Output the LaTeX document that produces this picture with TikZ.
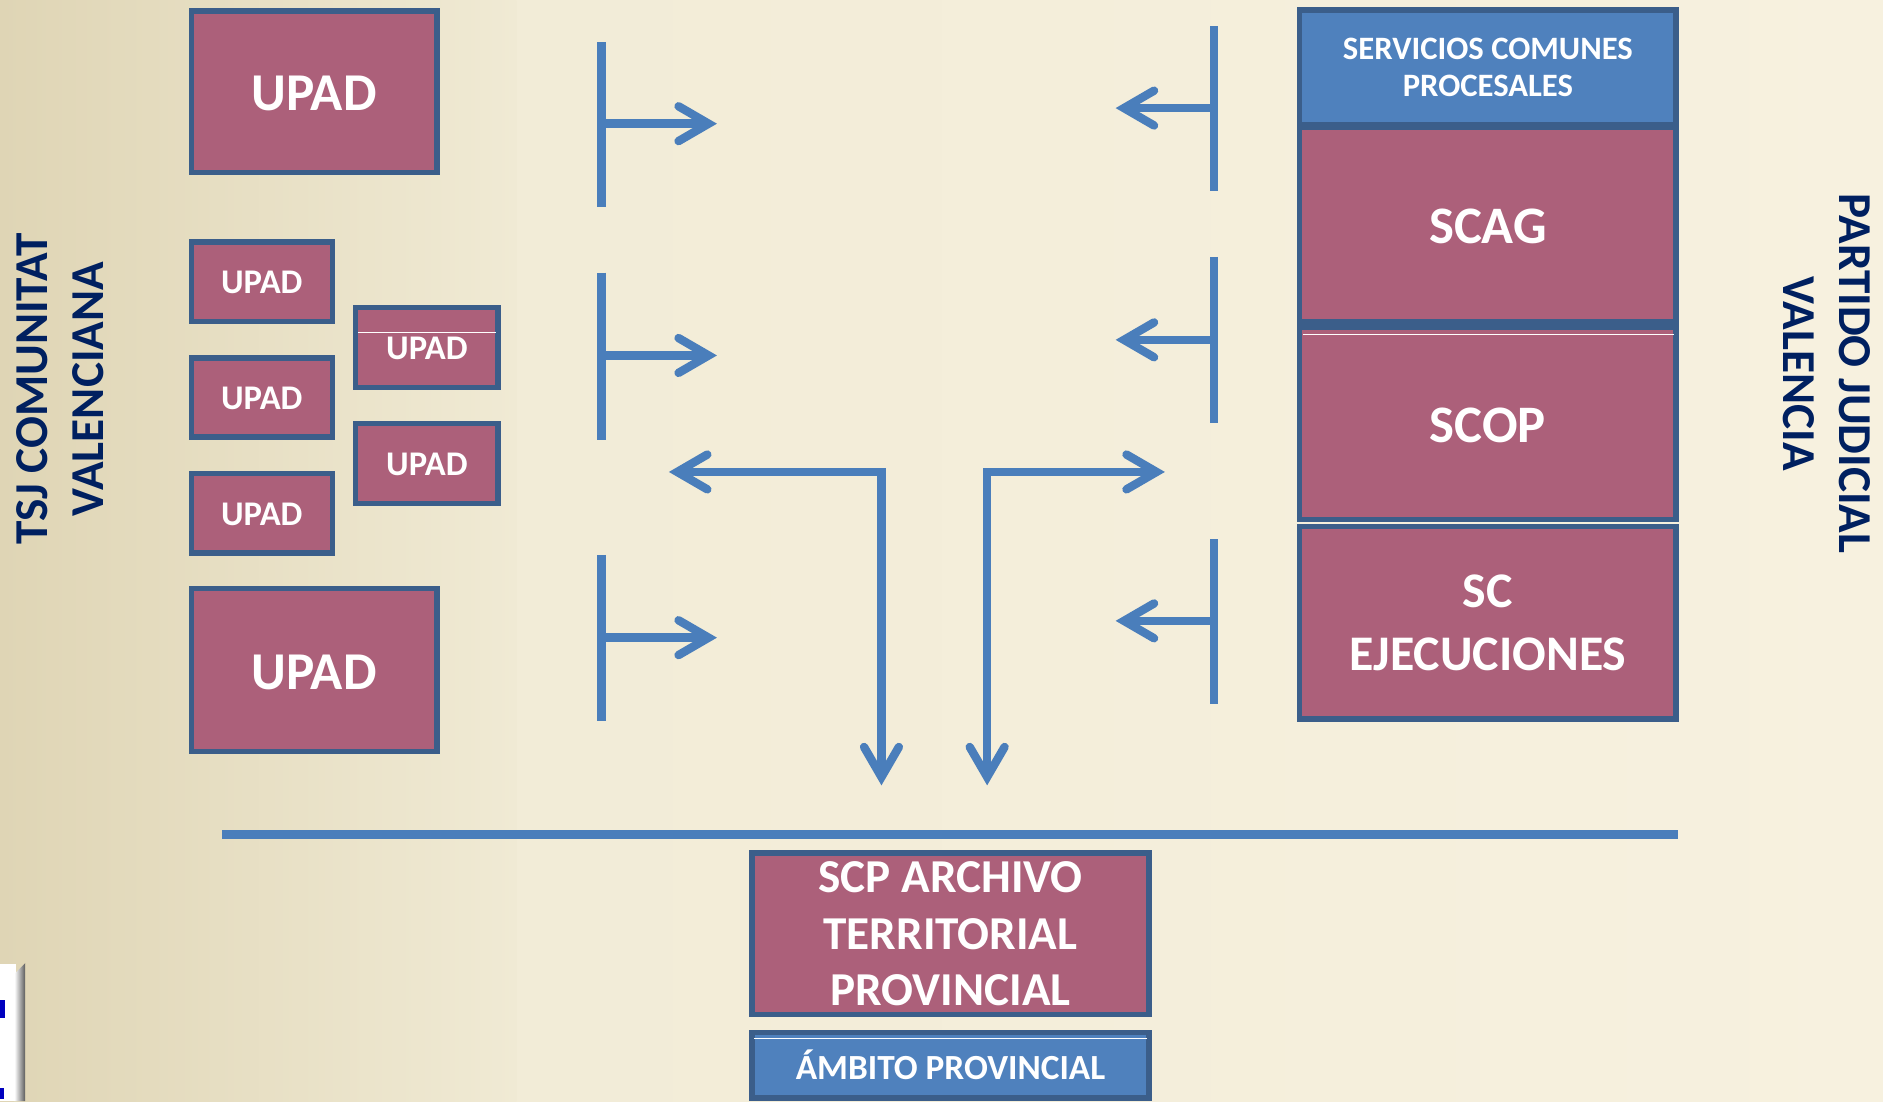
\documentclass[tikz,border=0pt]{standalone}
\usepackage{fontspec}
\setmainfont{Carlito}
\usetikzlibrary{arrows.meta}

\definecolor{mauve}{RGB}{172,96,122}
\definecolor{edge}{RGB}{59,94,138}
\definecolor{bluefill}{RGB}{79,129,189}
\definecolor{arrowblue}{RGB}{74,126,187}
\definecolor{navy}{RGB}{0,32,96}
\definecolor{bgL}{RGB}{223,213,181}
\definecolor{bgM}{RGB}{240,234,212}
\definecolor{bgR}{RGB}{247,241,223}

\tikzset{
  chev/.tip={Straight Barb[length=25pt,width=29pt,line cap=round]},
  box/.style={rectangle, draw=edge, line width=4.5pt, fill=mauve, text=white,
    inner sep=0pt, align=center, execute at begin node={\rule{0pt}{0.72em}}},
  bluebox/.style={box, fill=bluefill},
  flow/.style={draw=arrowblue, line width=7pt},
  sidelabel/.style={text=navy, align=center, inner sep=0pt,
    font=\bfseries\fontsize{39.3}{47}\selectfont},
  seam/.style={draw=white, line width=1pt},
}

\begin{document}
\begin{tikzpicture}[x=1pt,y=-1pt]
\useasboundingbox (0,0) rectangle (1568,917);
\shade[left color=bgM, right color=bgR] (0,0) rectangle (1568,917);
\shade[left color=bgL, right color=bgM] (0,0) rectangle (430,917);

% logo fragment bottom left
\fill[white] (0,803) rectangle (13,917);
\shade[left color=white, right color=black!65] (12,811) -- (21,802) -- (21,917) -- (12,917) -- cycle;
\fill[blue!75!black] (0,833) rectangle (4,848);
\fill[blue!75!black] (0,906) rectangle (3,915);

% side labels
\node[sidelabel, rotate=90] (tsj) at (50,324) {TSJ COMUNITAT\\VALENCIANA};
\node[sidelabel, rotate=-90] (pj) at (1521,311) {PARTIDO JUDICIAL\\VALENCIA};

% left UPAD boxes
\node[box, minimum width=204.5pt, minimum height=134.5pt,
  font=\bfseries\fontsize{44.3}{50}\selectfont] (u1) at (261.5,76.5) {UPAD};
\node[box, minimum width=117.5pt, minimum height=66pt,
  font=\bfseries\fontsize{28.8}{33}\selectfont] (u2) at (218,234.5) {UPAD};
\node[box, minimum width=117.5pt, minimum height=66pt,
  font=\bfseries\fontsize{28.8}{33}\selectfont] (u3) at (218,331) {UPAD};
\node[box, minimum width=117.5pt, minimum height=66pt,
  font=\bfseries\fontsize{28.8}{33}\selectfont] (u4) at (218,427.5) {UPAD};
\node[box, minimum width=118.5pt, minimum height=66.5pt,
  font=\bfseries\fontsize{28.8}{33}\selectfont] (u5) at (355.5,289.5) {UPAD};
\node[box, minimum width=118.5pt, minimum height=67pt,
  font=\bfseries\fontsize{28.8}{33}\selectfont] (u6) at (355.5,386) {UPAD};
\node[box, minimum width=204.5pt, minimum height=135.5pt,
  font=\bfseries\fontsize{44.3}{50}\selectfont] (u7) at (261.5,558) {UPAD};
\draw[seam] (298,277) -- (413,277);

% right stack
\node[bluebox, minimum width=313.5pt, minimum height=95.5pt,
  font=\bfseries\fontsize{27.2}{31}\selectfont] (scp) at (1239,56) {SERVICIOS COMUNES\\PROCESALES};
\node[box, minimum width=313.5pt, minimum height=161.5pt,
  font=\bfseries\fontsize{43.9}{50}\selectfont] (scag) at (1239,187) {SCAG};
\node[box, minimum width=313.5pt, minimum height=160.5pt,
  font=\bfseries\fontsize{43.9}{50}\selectfont] (scop) at (1239,352.5) {SCOP};
\node[box, minimum width=313.5pt, minimum height=160.5pt,
  font=\bfseries\fontsize{41.5}{53}\selectfont] (scej) at (1239,518.5) {SC\\EJECUCIONES};
\draw[seam] (1085,278.5) -- (1394,278.5);

% bottom
\node[box, minimum width=330.5pt, minimum height=134.5pt,
  font=\bfseries\fontsize{39.3}{47}\selectfont] (arch) at (791.5,777.5) {SCP ARCHIVO\\TERRITORIAL\\PROVINCIAL};
\node[bluebox, minimum width=330.5pt, minimum height=54.5pt,
  font=\bfseries\fontsize{29.4}{33}\selectfont] (amb) at (791.5,887) {ÁMBITO PROVINCIAL};
\draw[seam] (628,864.5) -- (955,864.5);

% horizontal bar
\coordinate (barL) at (185,695);
\coordinate (barR) at (1397,695);
\draw[flow] (barL) -- (barR);

% left T arrows
\foreach \n/\top/\bot/\mid in {a/35/172/103, b/227/366/296, c/462/600/531}{
  \coordinate (lt\n) at (501,\top);
  \coordinate (lb\n) at (501,\bot);
  \coordinate (lm\n) at (501,\mid);
  \coordinate (le\n) at (597,\mid);
  \draw[flow] (lt\n) -- (lb\n);
  \draw[flow, -chev] (lm\n) -- (le\n);
}
% right T arrows
\foreach \n/\top/\bot/\mid in {a/22/159/90, b/214/352/283, c/449/586/517}{
  \coordinate (rt\n) at (1011,\top);
  \coordinate (rb\n) at (1011,\bot);
  \coordinate (rm\n) at (1011,\mid);
  \coordinate (re\n) at (929,\mid);
  \draw[flow] (rt\n) -- (rb\n);
  \draw[flow, -chev] (rm\n) -- (re\n);
}

% central elbow arrows
\coordinate (cl) at (557,393);
\coordinate (cld) at (734,654);
\coordinate (cr) at (970,393);
\coordinate (crd) at (822,654);
\draw[flow, chev-chev] (cl) -| (cld);
\draw[flow, chev-chev] (cr) -| (crd);
\end{tikzpicture}
\end{document}
